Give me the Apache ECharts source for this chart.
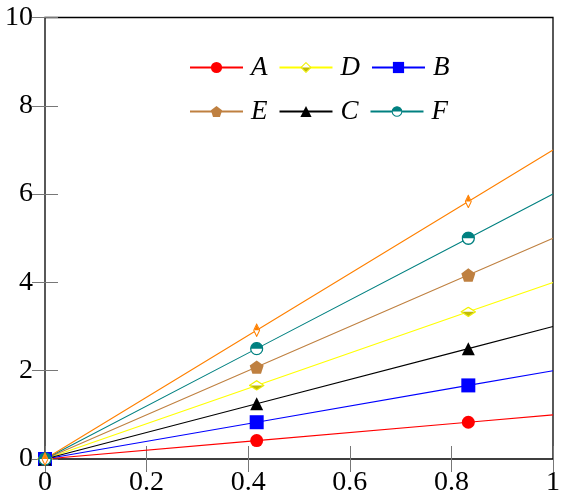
<!DOCTYPE html>
<html>
<head>
    <meta charset="utf-8">
    <title>lines</title>
    <script src="https://cdn.jsdelivr.net/npm/echarts@6/dist/echarts.min.js"></script>
</head>
<body style="margin:0;background:#fff;">
    <div id="main" style="width: 563px;height:501px;"></div>
    <script>
        // sample positions along x (marks only on the first three)
        var xs = [0, 0.4167, 0.8333, 1];
        var aVals = [0, 0.417, 0.833, 1];
        var bVals = [0, 0.833, 1.667, 2];
        var cVals = [0, 1.25, 2.5, 3];
        var dVals = [0, 1.667, 3.333, 4];
        var eVals = [0, 2.083, 4.167, 5];
        var fVals = [0, 2.5, 5, 6];
        var gVals = [0, 2.917, 5.833, 7];
        var legendRow1 = ['A', 'D', 'B'];
        var legendRow2 = ['E', 'C', 'F'];

        function svgIcon(svg) {
            return 'image://data:image/svg+xml;charset=utf-8,' + encodeURIComponent(svg);
        }

        var halfDiamondYellow = svgIcon(
            '<svg xmlns="http://www.w3.org/2000/svg" width="64" height="52" viewBox="0 0 16 13">' +
            '<polygon points="8,0.8 15.2,6.5 8,12.2 0.8,6.5" fill="#fff" stroke="#f2f200" stroke-width="1.3"/>' +
            '<polygon points="1.6,6.5 14.4,6.5 8,11.5" fill="#c2bd00"/></svg>');
        var halfDiamondOrange = svgIcon(
            '<svg xmlns="http://www.w3.org/2000/svg" width="40" height="56" viewBox="0 0 10 14">' +
            '<polygon points="5,0.8 9.2,7 5,13.2 0.8,7" fill="#fff" stroke="#ff8000" stroke-width="1.3"/>' +
            '<polygon points="1.4,7 5,1.6 8.6,7" fill="#ff8000"/></svg>');
        var halfCircleTeal = svgIcon(
            '<svg xmlns="http://www.w3.org/2000/svg" width="56" height="56" viewBox="0 0 14 14">' +
            '<circle cx="7" cy="7" r="6" fill="#fff" stroke="#008080" stroke-width="1.3"/>' +
            '<path d="M1,7 A6,6 0 0 1 13,7 Z" fill="#008080"/></svg>');
        var pentagon = 'path://M0,-1 L0.951,-0.309 L0.588,0.809 L-0.588,0.809 L-0.951,-0.309 Z';

        function pairs(vals) {
            var out = [];
            for (var i = 0; i < xs.length; i++) {
                if (i == xs.length - 1) {
                    out.push({ value: [xs[i], vals[i]], symbol: 'none' });
                } else {
                    out.push([xs[i], vals[i]]);
                }
            }
            return out;
        }

        function line(name, vals, color, symbol, size) {
            return {
                name: name,
                type: 'line',
                data: pairs(vals),
                symbol: symbol,
                symbolSize: size,
                symbolKeepAspect: true,
                showAllSymbol: true,
                color: color,
                itemStyle: { color: color, borderWidth: 0 },
                lineStyle: { color: color, width: 1.1 },
                z: 2
            };
        }

        var myChart = echarts.init(document.getElementById('main'));
        var tickStyle = { show: true, inside: true, length: 13, lineStyle: { color: '#777', width: 1 } };
        var labelFont = { fontFamily: 'Liberation Serif', fontSize: 28, color: '#000' };
        var legendBase = {
            left: 189,
            padding: 0,
            itemWidth: 53,
            itemHeight: 14,
            itemGap: 11,
            textStyle: { fontFamily: 'Liberation Serif', fontStyle: 'italic', fontSize: 27, color: '#000', padding: [0, 0, 0, 3] }
        };

        var option = {
            backgroundColor: '#fff',
            animation: false,
            grid: {
                left: 45,
                right: 10,
                top: 17.5,
                bottom: 42,
                show: true,
                borderColor: '#000',
                borderWidth: 1.3,
                backgroundColor: 'transparent'
            },
            legend: [
                Object.assign({}, legendBase, { top: 54, data: legendRow1 }),
                Object.assign({}, legendBase, { top: 98, data: legendRow2 })
            ],
            xAxis: [{
                    type: 'value',
                    min: 0,
                    max: 1,
                    interval: 0.2,
                    position: 'bottom',
                    axisLine: { show: false },
                    axisTick: tickStyle,
                    splitLine: { show: false },
                    axisLabel: Object.assign({ margin: 10 }, labelFont)
                },
                {
                    type: 'value',
                    min: 0,
                    max: 1,
                    interval: 0.2,
                    position: 'top',
                    axisLine: { show: false },
                    axisTick: tickStyle,
                    splitLine: { show: false },
                    axisLabel: { show: false }
                }
            ],
            yAxis: [{
                    type: 'value',
                    min: 0,
                    max: 10,
                    interval: 2,
                    position: 'left',
                    axisLine: { show: false },
                    axisTick: tickStyle,
                    splitLine: { show: false },
                    axisLabel: Object.assign({ margin: 12 }, labelFont)
                },
                {
                    type: 'value',
                    min: 0,
                    max: 10,
                    interval: 2,
                    position: 'right',
                    axisLine: { show: false },
                    axisTick: tickStyle,
                    splitLine: { show: false },
                    axisLabel: { show: false }
                }
            ],
            series: [
                line('A', aVals, '#ff0000', 'circle', 13),
                line('D', dVals, '#ffff00', halfDiamondYellow, [16, 13]),
                line('B', bVals, '#0000ff', 'rect', 14),
                line('E', eVals, '#bf8040', pentagon, 14),
                line('C', cVals, '#000000', 'triangle', 13),
                line('F', fVals, '#008080', halfCircleTeal, 14),
                line('G', gVals, '#ff8000', halfDiamondOrange, [10, 14])
            ]
        };

        myChart.setOption(option);
    </script>
</body>
</html>
